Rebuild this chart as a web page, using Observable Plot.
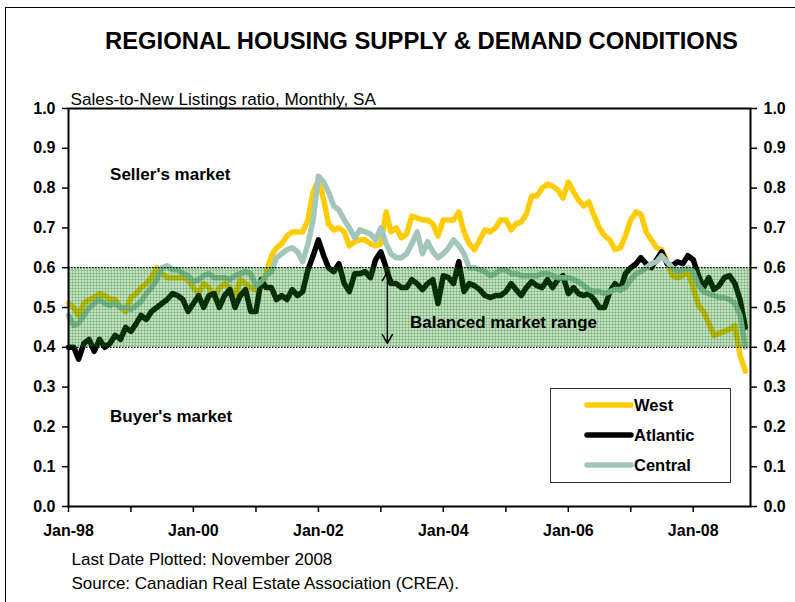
<!DOCTYPE html>
<html><head><meta charset="utf-8">
<script src="https://cdn.jsdelivr.net/npm/d3@7"></script>
<script src="https://cdn.jsdelivr.net/npm/@observablehq/plot@0.6"></script>
<style>
html,body{margin:0;padding:0;background:#fff;overflow:hidden}
#wrap{position:relative;width:795px;height:602px;overflow:hidden;font-family:"Liberation Sans",Arial,sans-serif}
#border{position:absolute;left:5px;top:7px;width:830px;height:640px;border:1px solid #000;box-sizing:border-box;pointer-events:none}
#chart{position:absolute;left:0;top:0}
#legend{position:absolute;left:550px;top:388px}
</style></head><body><div id="wrap"><div id="border"></div><div id="chart"></div><div id="legend"></div></div>
<script>
// ---- data ----
const titleText = "REGIONAL HOUSING SUPPLY & DEMAND CONDITIONS";
const subtitleText = "Sales-to-New Listings ratio, Monthly, SA";
const footnotes = ["Last Date Plotted: November 2008", "Source: Canadian Real Estate Association (CREA)."];
const seriesNames = ["West", "Atlantic", "Central"];
const seriesColors = ["#ffcc00", "#000000", "#a2c6bc"];
const west = [
  0.51,0.50,0.48,0.51,0.52,0.525,0.535,0.53,0.52,0.52,
  0.50,0.49,0.525,0.535,0.55,0.56,0.575,0.60,0.585,0.575,
  0.575,0.575,0.575,0.57,0.55,0.535,0.56,0.55,0.525,0.55,
  0.56,0.55,0.525,0.57,0.56,0.55,0.545,0.55,0.585,0.63,
  0.65,0.66,0.68,0.69,0.69,0.69,0.72,0.79,0.82,0.77,
  0.71,0.695,0.70,0.69,0.655,0.665,0.67,0.67,0.66,0.655,
  0.66,0.74,0.69,0.70,0.675,0.685,0.73,0.725,0.72,0.72,
  0.71,0.68,0.72,0.72,0.72,0.74,0.69,0.66,0.645,0.67,
  0.695,0.69,0.70,0.72,0.72,0.695,0.71,0.715,0.735,0.78,
  0.78,0.80,0.81,0.805,0.795,0.775,0.815,0.79,0.77,0.755,
  0.765,0.73,0.70,0.68,0.67,0.645,0.65,0.68,0.72,0.74,
  0.735,0.69,0.67,0.65,0.645,0.615,0.58,0.575,0.58,0.59,
  0.55,0.505,0.49,0.46,0.43,0.435,0.44,0.445,0.455,0.38,
  0.34];
const atlantic = [
  0.40,0.40,0.37,0.41,0.42,0.39,0.42,0.40,0.41,0.43,
  0.42,0.45,0.44,0.46,0.48,0.47,0.49,0.50,0.51,0.52,
  0.535,0.53,0.52,0.49,0.51,0.53,0.50,0.53,0.535,0.50,
  0.53,0.545,0.50,0.53,0.545,0.49,0.49,0.57,0.55,0.55,
  0.52,0.53,0.52,0.545,0.53,0.54,0.595,0.63,0.67,0.63,
  0.60,0.59,0.61,0.56,0.54,0.585,0.585,0.59,0.575,0.62,
  0.64,0.60,0.56,0.56,0.55,0.55,0.57,0.56,0.545,0.56,
  0.57,0.51,0.58,0.575,0.56,0.615,0.54,0.56,0.555,0.545,
  0.53,0.525,0.53,0.53,0.54,0.56,0.545,0.53,0.55,0.565,
  0.555,0.55,0.57,0.55,0.57,0.58,0.535,0.55,0.535,0.53,
  0.535,0.52,0.50,0.50,0.54,0.56,0.545,0.585,0.60,0.61,
  0.625,0.61,0.60,0.62,0.64,0.61,0.605,0.615,0.61,0.63,
  0.62,0.58,0.55,0.575,0.545,0.555,0.575,0.58,0.56,0.52,
  0.45];
const central = [
  0.48,0.455,0.46,0.48,0.50,0.51,0.52,0.51,0.505,0.51,
  0.50,0.50,0.495,0.505,0.515,0.535,0.55,0.57,0.60,0.605,
  0.595,0.595,0.585,0.58,0.565,0.57,0.58,0.585,0.575,0.575,
  0.575,0.57,0.58,0.585,0.59,0.585,0.555,0.565,0.58,0.59,
  0.625,0.635,0.645,0.65,0.64,0.615,0.66,0.72,0.83,0.815,
  0.79,0.755,0.745,0.72,0.70,0.675,0.695,0.69,0.685,0.67,
  0.70,0.66,0.635,0.625,0.625,0.635,0.66,0.69,0.635,0.665,
  0.64,0.625,0.635,0.65,0.67,0.655,0.635,0.60,0.60,0.595,
  0.59,0.58,0.585,0.595,0.595,0.585,0.585,0.58,0.58,0.58,
  0.58,0.585,0.585,0.58,0.575,0.575,0.575,0.57,0.565,0.555,
  0.545,0.54,0.54,0.535,0.54,0.545,0.545,0.55,0.57,0.585,
  0.59,0.60,0.61,0.615,0.63,0.615,0.60,0.59,0.595,0.60,
  0.59,0.555,0.54,0.535,0.53,0.525,0.525,0.52,0.51,0.48,
  0.40];
const yTicks = [0,0.1,0.2,0.3,0.4,0.5,0.6,0.7,0.8,0.9,1.0];
const xTickYears = [1998,1999,2000,2001,2002,2003,2004,2005,2006,2007,2008];
const xTickLabels = ["Jan-98","","Jan-00","","Jan-02","","Jan-04","","Jan-06","","Jan-08"];
const balancedRange = [0.4, 0.6];
const annotations = ["Seller's market", "Buyer's market", "Balanced market range"];

// ---- build ----
const dates = d3.utcMonth.range(new Date(Date.UTC(1998,0,1)), new Date(Date.UTC(2008,11,1)));
const values = [west, atlantic, central];
const rows = seriesNames.flatMap((s, i) => values[i].map((v, j) => ({date: dates[j], value: v, series: s})));
const tickDates = xTickYears.map(y => new Date(Date.UTC(y,0,1)));
const font = {fontWeight: "bold", fontSize: 16, fill: "#000"};
const afont = {fontWeight: "bold", fontSize: 17, fill: "#000"};

const plot = Plot.plot({
  width: 795, height: 602,
  marginLeft: 68, marginRight: 45, marginTop: 108, marginBottom: 96,
  style: {fontFamily: '"Liberation Sans", Arial, sans-serif', background: "transparent", overflow: "visible"},
  x: {type: "utc", domain: [new Date(Date.UTC(1998,0,1)), new Date(Date.UTC(2008,11,1))]},
  y: {domain: [0, 1]},
  color: {domain: seriesNames, range: seriesColors},
  marks: [
    Plot.line(rows, {x: "date", y: "value", z: "series", stroke: "series", strokeWidth: 5.5, strokeLinejoin: "round", strokeLinecap: "round"}),
    Plot.rect([balancedRange], {y1: d => d[0], y2: d => d[1], fill: "url(#bandPattern)"}),
    Plot.ruleY(balancedRange, {stroke: "#000", strokeWidth: 1.2, strokeDasharray: "1.5,1.5"}),
    Plot.arrow([0], {x1: new Date(Date.UTC(2003,1,8)), x2: new Date(Date.UTC(2003,1,8)), y1: 0.5, y2: 0.589, stroke: "#000", strokeWidth: 1.5, headLength: 10}),
    Plot.arrow([0], {x1: new Date(Date.UTC(2003,1,8)), x2: new Date(Date.UTC(2003,1,8)), y1: 0.5, y2: 0.41, stroke: "#000", strokeWidth: 1.5, headLength: 10}),
    Plot.text([annotations[0]], {x: new Date(Date.UTC(1998,8,1)), y: 0.834, text: d => d, textAnchor: "start", ...afont}),
    Plot.text([annotations[1]], {x: new Date(Date.UTC(1998,8,1)), y: 0.227, text: d => d, textAnchor: "start", ...afont}),
    Plot.text([annotations[2]], {x: new Date(Date.UTC(2003,5,20)), y: 0.463, text: d => d, textAnchor: "start", ...afont}),
    Plot.frame({stroke: "#000", strokeWidth: 2}),
    Plot.axisY({anchor: "left", ticks: yTicks, tickFormat: ".1f", tickSize: 6, tickPadding: 7, strokeWidth: 1.5, ...font, label: null}),
    Plot.axisY({anchor: "right", ticks: yTicks, tickFormat: ".1f", tickSize: 6, tickPadding: 7, strokeWidth: 1.5, ...font, label: null}),
    Plot.axisX({ticks: tickDates, tickFormat: (d, i) => xTickLabels[i], tickSize: 6, tickPadding: 12, strokeWidth: 1.5, ...font, label: null}),
    Plot.text([titleText], {frameAnchor: "top", dx: 12, dy: -60, lineAnchor: "bottom", text: d => d, fontWeight: "bold", fontSize: 23.8, fill: "#000"}),
    Plot.text([subtitleText], {frameAnchor: "top-left", dx: 2, dy: -4, lineAnchor: "bottom", textAnchor: "start", text: d => d, fontSize: 17.2, fill: "#000"}),
    Plot.text([footnotes[0]], {frameAnchor: "bottom-left", dx: 3, dy: 58, lineAnchor: "bottom", textAnchor: "start", text: d => d, fontSize: 17, fill: "#000"}),
    Plot.text([footnotes[1]], {frameAnchor: "bottom-left", dx: 3, dy: 82, lineAnchor: "bottom", textAnchor: "start", text: d => d, fontSize: 17, fill: "#000"})
  ]
});

// band hatch pattern (drawn over the lines, semi-transparent green)
const ns = "http://www.w3.org/2000/svg";
const defs = document.createElementNS(ns, "defs");
defs.innerHTML = `<pattern id="bandPattern" width="3" height="3" patternUnits="userSpaceOnUse">
  <rect width="3" height="3" fill="#1a8f1a" fill-opacity="0.27"/>
  <path d="M0,0.5H3M0.5,0V3" stroke="#006400" stroke-opacity="0.2" stroke-width="1"/>
</pattern>`;
plot.insertBefore(defs, plot.firstChild);
document.getElementById("chart").appendChild(plot);

// legend
const lg = d3.select("#legend").append("svg").attr("width", 181).attr("height", 95);
lg.append("rect").attr("x", 0.5).attr("y", 0.5).attr("width", 180).attr("height", 94).attr("fill", "#fff").attr("stroke", "#333");
seriesNames.forEach((s, i) => {
  const y = 17 + i * 30;
  lg.append("line").attr("x1", 37).attr("x2", 81).attr("y1", y).attr("y2", y)
    .attr("stroke", seriesColors[i]).attr("stroke-width", 5.5).attr("stroke-linecap", "round");
  lg.append("text").attr("x", 84).attr("y", y + 6).text(s)
    .attr("font-family", '"Liberation Sans", Arial, sans-serif').attr("font-weight", "bold").attr("font-size", 16.5);
});
</script></body></html>
